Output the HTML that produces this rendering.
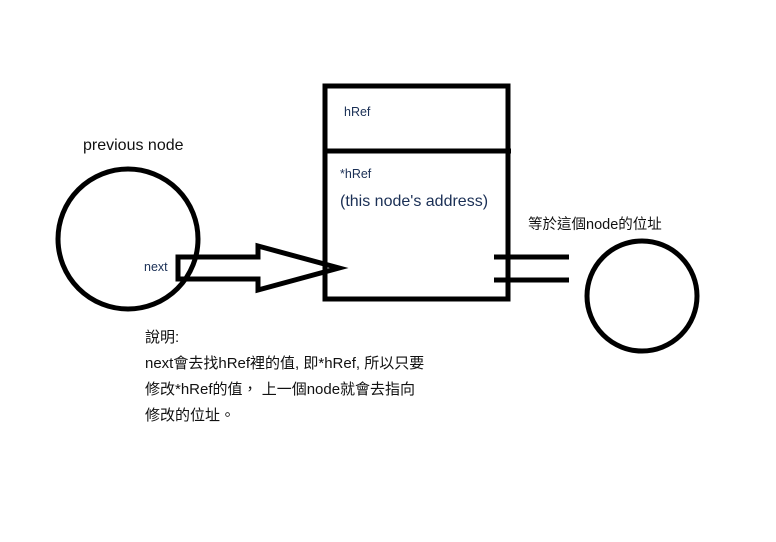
<!DOCTYPE html>
<html><head><meta charset="utf-8"><style>
body{margin:0;background:#fff;width:776px;height:542px;overflow:hidden;position:relative;font-family:"Liberation Sans","Noto Sans CJK TC",sans-serif;}
.t{position:absolute;white-space:nowrap;line-height:1;color:#111;}
</style></head><body>
<svg width="776" height="542" style="position:absolute;left:0;top:0">
<g fill="none" stroke="#000" stroke-width="5">
<circle cx="128" cy="239" r="70"/>
<circle cx="642" cy="296" r="55"/>
<rect x="325" y="86" width="183" height="213"/>
<line x1="325" y1="151" x2="511" y2="151"/>
<line x1="494" y1="257" x2="569" y2="257"/>
<line x1="494" y1="280" x2="569" y2="280"/>
<polygon points="178,257 258,257 258,246 339,268 258,290 258,279 178,279" stroke-linejoin="miter"/>
</g>
</svg>
<div class="t" style="left:83px;top:138px;font-size:16px">previous node</div>
<div class="t" style="left:344px;top:106px;font-size:12.5px;color:#1a2f55">hRef</div>
<div class="t" style="left:340px;top:168px;font-size:12.5px;color:#1a2f55">*hRef</div>
<div class="t" style="left:340px;top:194px;font-size:16px;color:#1a2f55">(this node's address)</div>
<div class="t" style="left:144px;top:261px;font-size:12.5px;color:#1a2f55">next</div>
<div class="t" style="left:528px;top:218px;font-size:14.5px">等於這個node的位址</div>
<div class="t" style="left:145px;top:325px;font-size:15px;line-height:26px">說明:<br>next會去找hRef裡的值, 即*hRef, 所以只要<br>修改*hRef的值， 上一個node就會去指向<br>修改的位址。</div>
</body></html>
